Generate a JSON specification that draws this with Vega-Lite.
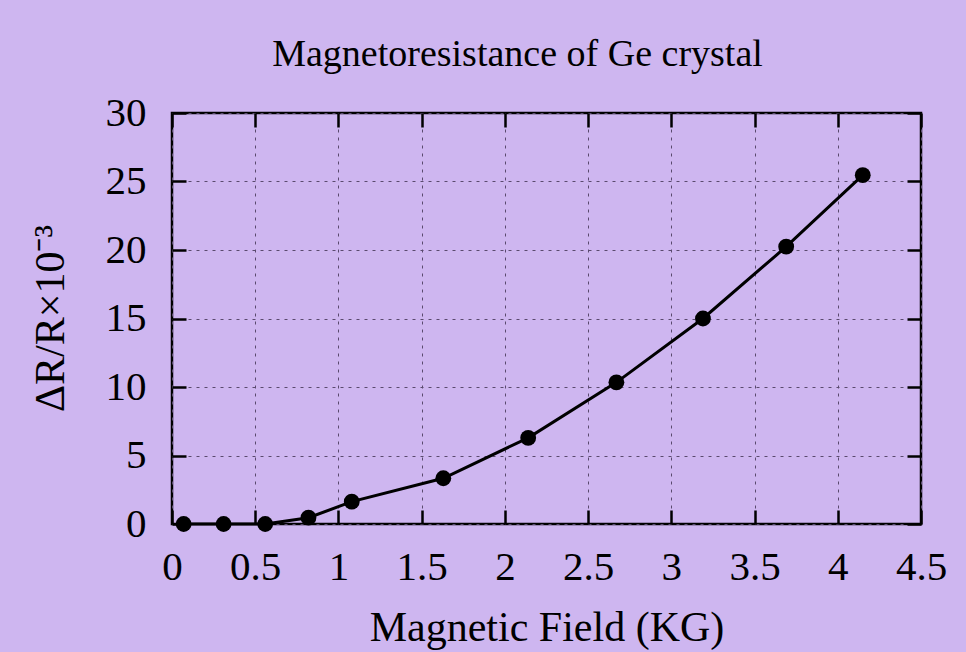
{
  "$schema": "https://vega.github.io/schema/vega-lite/v6.json",
  "width": 749,
  "height": 411,
  "autosize": {"type": "none"},
  "padding": {"left": 172, "top": 113, "right": 45, "bottom": 128},
  "background": "#ceb6f0",
  "title": {
    "text": "Magnetoresistance of Ge crystal",
    "font": "Liberation Serif",
    "fontSize": 38,
    "fontWeight": "normal",
    "color": "#000000",
    "anchor": "middle",
    "baseline": "alphabetic",
    "offset": -12,
    "dx": -29
  },
  "config": {
    "view": {"stroke": "#000000", "strokeWidth": 2.5, "fill": null},
    "axis": {
      "labelFont": "Liberation Serif",
      "labelFontSize": 41,
      "labelColor": "#000000",
      "titleFont": "Liberation Serif",
      "titleFontSize": 42,
      "titleFontWeight": "normal",
      "titleColor": "#000000",
      "domain": false,
      "tickColor": "#000000",
      "tickWidth": 2.5,
      "tickSize": -14,
      "gridColor": "#5a4a6e",
      "gridWidth": 1,
      "gridDash": [3, 5]
    }
  },
  "data": {
    "values": [
      {"field": 0.07, "dr": 0.0},
      {"field": 0.31, "dr": 0.0},
      {"field": 0.56, "dr": 0.0},
      {"field": 0.82, "dr": 0.46},
      {"field": 1.08, "dr": 1.63},
      {"field": 1.63, "dr": 3.34},
      {"field": 2.14, "dr": 6.29},
      {"field": 2.67, "dr": 10.34},
      {"field": 3.19, "dr": 15.0},
      {"field": 3.69, "dr": 20.24},
      {"field": 4.15, "dr": 25.46}
    ]
  },
  "resolve": {"axis": {"x": "independent", "y": "independent"}},
  "layer": [
    {
      "mark": {"type": "line", "color": "#000000", "strokeWidth": 3},
      "encoding": {
        "x": {
          "field": "field",
          "type": "quantitative",
          "scale": {"domain": [0, 4.5], "nice": false, "zero": false},
          "axis": {
            "title": "Magnetic Field (KG)",
            "orient": "bottom",
            "grid": true,
            "values": [0, 0.5, 1, 1.5, 2, 2.5, 3, 3.5, 4, 4.5],
            "labelExpr": "datum.value",
            "labelPadding": 37,
            "labelBaseline": "top",
            "labelFlush": false,
            "titleBaseline": "alphabetic",
            "titleY": 116
          }
        },
        "y": {
          "field": "dr",
          "type": "quantitative",
          "scale": {"domain": [0, 30], "nice": false},
          "axis": {
            "title": "ΔR/R×10⁻³",
            "orient": "left",
            "grid": true,
            "values": [0, 5, 10, 15, 20, 25, 30],
            "labelPadding": 40,
            "labelFlush": false,
            "titleAngle": -90,
            "titleAlign": "center",
            "titleBaseline": "middle",
            "titleX": -122,
            "titleY": 205
          }
        }
      }
    },
    {
      "mark": {"type": "point", "filled": true, "shape": "circle", "color": "#000000", "size": 250, "opacity": 1},
      "encoding": {
        "x": {
          "field": "field",
          "type": "quantitative",
          "axis": {
            "orient": "top",
            "title": null,
            "labels": false,
            "grid": false,
            "values": [0, 0.5, 1, 1.5, 2, 2.5, 3, 3.5, 4, 4.5]
          }
        },
        "y": {
          "field": "dr",
          "type": "quantitative",
          "axis": {
            "orient": "right",
            "title": null,
            "labels": false,
            "grid": false,
            "values": [0, 5, 10, 15, 20, 25, 30]
          }
        }
      }
    }
  ]
}
